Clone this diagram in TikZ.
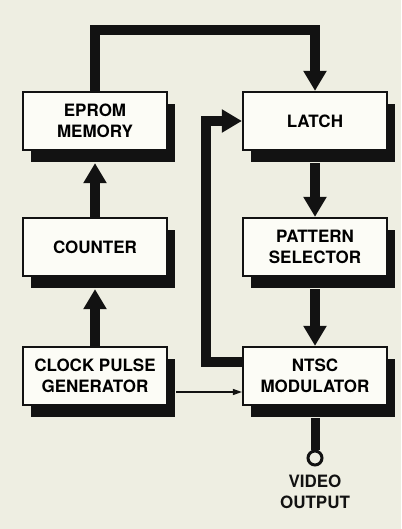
\documentclass[tikz,border=0pt]{standalone}
\usepackage{fontspec}
\setmainfont{TeX Gyre Heros}
\usetikzlibrary{arrows.meta,shadows}
\definecolor{paper}{RGB}{238,238,226}
\definecolor{card}{RGB}{252,252,246}
\definecolor{ink}{RGB}{18,18,18}
\tikzset{
  >={Triangle[length=20pt,width=22pt]},
  blk/.style={draw=ink,fill=card,line width=2.2pt,minimum width=144pt,minimum height=58pt,
    align=center,font=\fontsize{17}{21}\selectfont\bfseries,
    drop shadow={shadow xshift=8pt,shadow yshift=-12pt,fill=ink,opacity=1}},
  lbl/.style={align=center,text=ink,font=\fontsize{17}{21}\selectfont\bfseries},
  bus/.style={->,line width=10pt,draw=ink},
  wire/.style={-{Triangle[length=9pt,width=6pt]},line width=1.3pt,draw=ink},
  jack/.style={circle,draw=ink,line width=3pt,minimum size=14pt,inner sep=0pt,fill=paper},
}

\begin{document}
\begin{tikzpicture}[x=1pt,y=-1pt]
    \fill[paper] (0,0) rectangle (401,529);
    \useasboundingbox (0,0) rectangle (401,529);
    % blocks, left column then right column
    \foreach \n/\t/\x/\y in {eprom/EPROM\\MEMORY/95/121,counter/COUNTER/95/247,clock/CLOCK PULSE\\GENERATOR/95/376,
      latch/LATCH/315/121,pattern/PATTERN\\SELECTOR/315/247,ntsc/NTSC\\MODULATOR/315/376}{
      \node[blk] (\n) at (\x,\y) {\t};
    }
    \node[jack] (vout) at (315,458) {};
    \node[lbl] (vtxt) at (315,492) {VIDEO\\OUTPUT};
    % data paths
    \draw[bus] (eprom.north) -- ++(0,-61) -| (latch.north);
    \draw[bus] (counter.north) -- ([yshift=-12pt]eprom.south);
    \draw[bus] (clock.north) -- ([yshift=-12pt]counter.south);
    \draw[bus] ([yshift=-12pt]latch.south) -- (pattern.north);
    \draw[bus] ([yshift=-12pt]pattern.south) -- (ntsc.north);
    \draw[bus] ([yshift=14pt]ntsc.west) -- ++(-36,0) |- (latch.west);
    \draw[wire] ([xshift=8pt,yshift=-16pt]clock.east) -- ([yshift=-16pt]ntsc.west);
    \draw[line width=9pt,draw=ink] ([yshift=-12pt]ntsc.south) -- (vout.north);
  \end{tikzpicture}
\end{document}
